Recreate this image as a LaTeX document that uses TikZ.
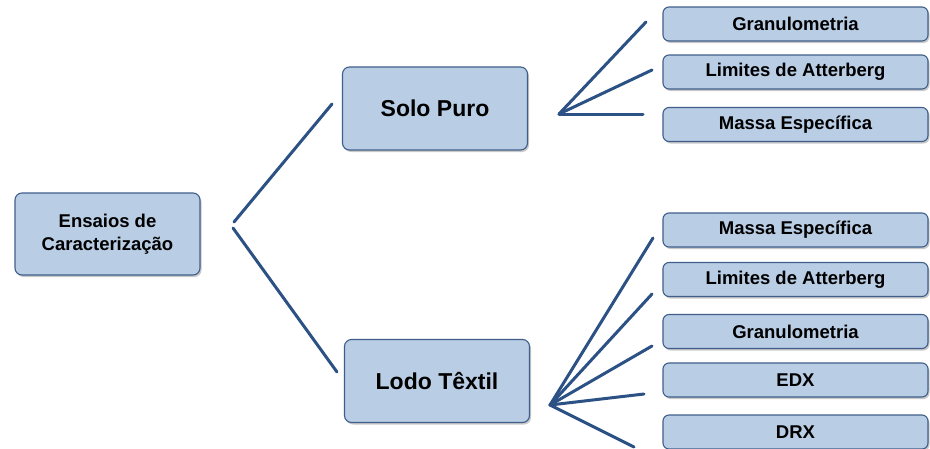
\documentclass[tikz,border=0pt]{standalone}
\usepackage{fontspec}
\setmainfont{Liberation Sans}
\usetikzlibrary{shadows}
\definecolor{boxfill}{HTML}{B9CDE5}
\definecolor{boxline}{HTML}{3F5F8A}
\definecolor{conline}{HTML}{2C5184}
\begin{document}
\begin{tikzpicture}[x=1pt,y=-1pt,
  basebox/.style={draw=boxline, line width=1.1pt, fill=boxfill, rounded corners=7pt,
    drop shadow={shadow xshift=1.5pt, shadow yshift=-2pt, opacity=0.35, fill=black!60},
    align=center, font=\bfseries, inner sep=0pt},
  bigbox/.style={basebox, minimum width=185pt, minimum height=83pt, font=\bfseries\fontsize{23}{27}\selectfont},
  rootbox/.style={basebox, minimum width=185pt, minimum height=82pt, font=\bfseries\fontsize{18.5}{23}\selectfont},
  leafbox/.style={basebox, rounded corners=6pt, minimum width=265pt, minimum height=34pt, font=\bfseries\fontsize{18.5}{22}\selectfont},
  con/.style={draw=conline, line width=3pt, line cap=round}]
\useasboundingbox (0,0) rectangle (930,448);
\fill[white] (0,0) rectangle (930,448);

\node[rootbox] (root) at (107.5,234) {Ensaios de\\Caracterização};
\node[bigbox] (solo) at (435,108.5) {Solo Puro};
\node[bigbox] (lodo) at (437,381) {Lodo Têxtil};

\node[leafbox] (s1) at (795.5,24) {Granulometria};
\node[leafbox] (s2) at (795.5,72) {Limites de Atterberg};
\node[leafbox] (s3) at (795.5,124.5) {Massa Específica};

\node[leafbox] (l1) at (795.5,230) {Massa Específica};
\node[leafbox] (l2) at (795.5,279.5) {Limites de Atterberg};
\node[leafbox] (l3) at (795.5,331.5) {Granulometria};
\node[leafbox] (l4) at (795.5,380) {EDX};
\node[leafbox] (l5) at (795.5,432) {DRX};

% connector coordinates
\coordinate (rv1) at (234,222);
\coordinate (rv2) at (233,228);
\coordinate (ra) at (332,104);
\coordinate (rb) at (337,372);
\coordinate (sv) at (559,114);
\coordinate (sa) at (646,22);
\coordinate (sb) at (652,70);
\coordinate (sc) at (643,114);
\coordinate (lv) at (550,405);
\coordinate (la) at (653,238);
\coordinate (lb) at (652,294);
\coordinate (lc) at (652,346);
\coordinate (ld) at (644,394);
\coordinate (le) at (634,447);

\draw[con] (rv1) -- (ra);
\draw[con] (rv2) -- (rb);
\draw[con] (sv) -- (sa);
\draw[con] (sv) -- (sb);
\draw[con] (sv) -- (sc);
\draw[con] (lv) -- (la);
\draw[con] (lv) -- (lb);
\draw[con] (lv) -- (lc);
\draw[con] (lv) -- (ld);
\draw[con] (lv) -- (le);
\end{tikzpicture}
\end{document}
